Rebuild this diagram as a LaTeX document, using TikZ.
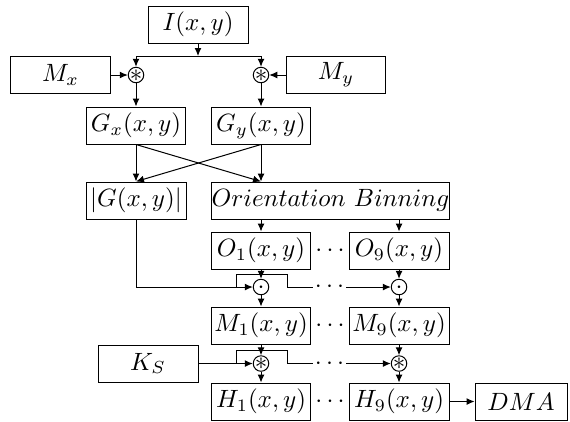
\documentclass[tikz,border=0pt]{standalone}
\usetikzlibrary{arrows.meta}
\begin{document}
\begin{tikzpicture}[x=0.4pt,y=-0.4pt,
  box/.style={draw, line width=0.4pt, inner sep=0pt, minimum height=14.8pt, minimum width=39.6pt},
  opc/.style={draw, circle, line width=0.4pt, inner sep=0pt, minimum size=6.2pt, text height=5pt, text depth=0pt},
  arr/.style={-{Latex[length=3.2pt,width=2.8pt]}, line width=0.4pt},
  ln/.style={line width=0.4pt},
  dotsn/.style={inner sep=0pt}]
\useasboundingbox (0,0) rectangle (570,421);
% boxes
\node[box, minimum width=40pt] (I) at (198,24.5) {$I(x,y)$};
\node[box] (Mx) at (60.5,75) {$M_x$};
\node[box] (My) at (336,75) {$M_y$};
\node[opc] (c1) at (136,75) {\makebox[0pt]{$\ast$}};
\node[opc] (c2) at (261,75) {\makebox[0pt]{$\ast$}};
\node[box] (Gx) at (136,125.5) {$G_x(x,y)$};
\node[box] (Gy) at (261,125.5) {$G_y(x,y)$};
\node[box, minimum width=40pt] (G) at (136,200.5) {$|G(x,y)|$};
\node[box, minimum width=94.8pt] (OB) at (330.5,200.5) {$Orientation\ Binning$};
\node[box] (O1) at (261,250.5) {$O_1(x,y)$};
\node[box, minimum width=40pt] (O9) at (399,250.5) {$O_9(x,y)$};
\node[dotsn] (dO) at (330,250.5) {$\cdots$};
\node[opc] (d1) at (261,287) {\makebox[0pt]{$\cdot$}};
\node[opc] (d2) at (399,287) {\makebox[0pt]{$\cdot$}};
\node[box] (M1) at (261,325.5) {$M_1(x,y)$};
\node[box, minimum width=40pt] (M9) at (399,325.5) {$M_9(x,y)$};
\node[dotsn] (dM) at (330,325.5) {$\cdots$};
\node[box, minimum width=40pt] (KS) at (148,363.5) {$K_S$};
\node[opc] (k1) at (261,363.5) {\makebox[0pt]{$\ast$}};
\node[opc] (k2) at (399,363.5) {\makebox[0pt]{$\ast$}};
\node[box] (H1) at (261,401.5) {$H_1(x,y)$};
\node[box, minimum width=40pt] (H9) at (399,401.5) {$H_9(x,y)$};
\node[dotsn] (dH) at (330,401.5) {$\cdots$};
\node[box, minimum width=36.8pt] (DMA) at (521,401.5) {$DMA$};
% top split
\coordinate (t) at (198,56);
\draw[arr] (I.south) -- (t);
\draw[ln] (c1 |- t) -- (c2 |- t);
\draw[arr] (c1 |- t) -- (c1);
\draw[arr] (c2 |- t) -- (c2);
\draw[arr] (Mx) -- (c1);
\draw[arr] (My) -- (c2);
\draw[arr] (c1) -- (Gx);
\draw[arr] (c2) -- (Gy);
% cross
\draw[arr] (Gx.south) -- (Gx.south |- G.north);
\draw[arr] (Gy.south) -- (Gy.south |- OB.north);
\draw[arr] (Gx.south) -- (Gy.south |- OB.north);
\draw[arr] (Gy.south) -- (Gx.south |- G.north);
% orientation
\draw[arr] (O1 |- OB.south) -- (O1.north);
\draw[arr] (O9 |- OB.south) -- (O9.north);
\draw[arr] (O1) -- (d1);
\draw[arr] (O9) -- (d2);
\draw[arr] (d1) -- (M1);
\draw[arr] (d2) -- (M9);
\draw[arr] (G.south) |- (d1.west);
\coordinate (ga) at (236,287);
\coordinate (gb) at (287,274);
\coordinate (gc) at (313,287);
\coordinate (gd) at (346,287);
\node[dotsn] (dd) at (329.5,287) {$\cdots$};
\draw[ln] (ga) |- (gb) |- (gc);
\draw[arr] (gd) -- (d2);
% smoothing
\draw[arr] (M1) -- (k1);
\draw[arr] (M9) -- (k2);
\draw[arr] (k1) -- (H1);
\draw[arr] (k2) -- (H9);
\draw[arr] (KS) -- (k1);
\coordinate (ka) at (236,363.5);
\coordinate (kb) at (287,350);
\coordinate (kc) at (313,363.5);
\coordinate (kd) at (346,363.5);
\node[dotsn] (dk) at (329.5,363.5) {$\cdots$};
\draw[ln] (ka) |- (kb) |- (kc);
\draw[arr] (kd) -- (k2);
\draw[arr] (H9) -- (DMA);
\end{tikzpicture}
\end{document}
